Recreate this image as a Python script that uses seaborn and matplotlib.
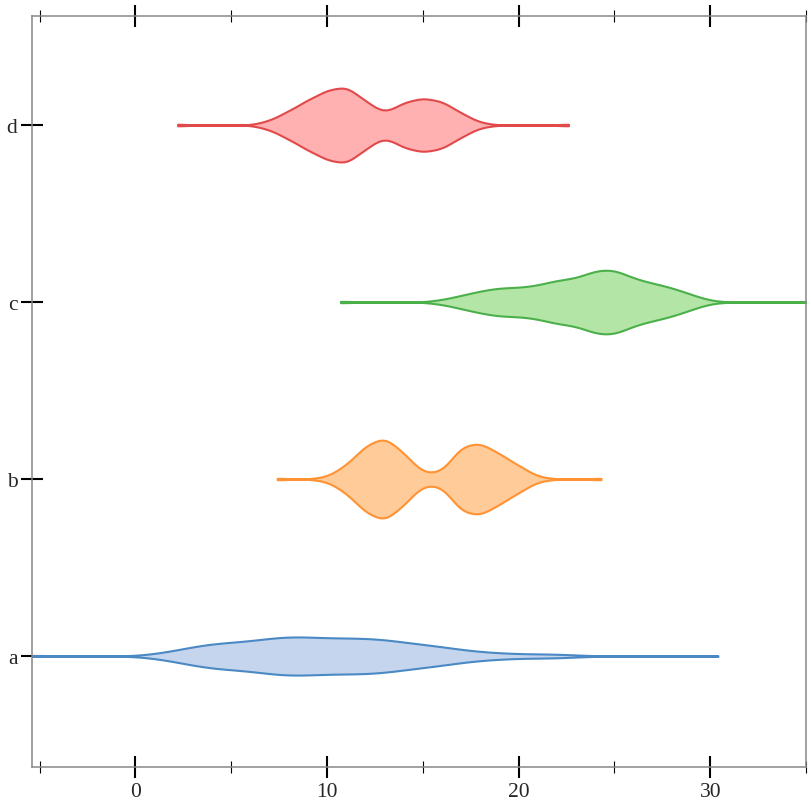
import numpy as np
import pandas as pd
import matplotlib
matplotlib.use('Agg')
import matplotlib.pyplot as plt
import seaborn as sns

# values (grid positions and relative weights)
a_values = [-6, 1, 2, 3, 4, 5, 6, 7, 8, 9, 10, 11, 12, 13, 14, 15, 16, 17, 18, 19, 20, 21, 22, 23, 30.4]
a_counts = [1, 2, 5, 9, 12, 13, 14, 17, 19, 18, 17, 17, 17, 16, 13, 11, 9, 6, 4, 3, 2, 2, 2, 1, 1]

b_values = [7.4, 10, 11, 12, 13, 14, 15, 16, 17, 18, 19, 20, 21, 24.3]
b_counts = [1, 2, 13, 32, 41, 25, 5, 6, 32, 35, 24, 13, 2, 1]

c_values = [10.7, 16, 17, 18, 19, 20, 21, 22, 23, 24, 25, 26, 27, 28, 29, 30, 36]
c_counts = [1, 2, 6, 10, 13, 13, 15, 20, 21, 29, 30, 21, 17, 13, 7, 1, 1]

d_values = [2.2, 7, 8, 9, 10, 11, 12, 13, 14, 15, 16, 17, 18, 22.6]
d_counts = [1, 4, 13, 23, 32, 36, 22, 10, 21, 25, 22, 11, 2, 1]

groups = ['a', 'b', 'c', 'd']
fill_colors = {'a': '#c5d5ee', 'b': '#ffcb99', 'c': '#b3e6a6', 'd': '#ffb1b1'}
line_colors = {'a': '#4a89c4', 'b': '#ff9233', 'c': '#4bb04a', 'd': '#e1494b'}

frames = []
for g, vals, cnts in [('a', a_values, a_counts), ('b', b_values, b_counts),
                      ('c', c_values, c_counts), ('d', d_values, d_counts)]:
    frames.append(pd.DataFrame({'value': np.repeat(vals, cnts), 'group': g}))
df = pd.concat(frames, ignore_index=True)

sns.set_style('ticks')
plt.rcParams['font.family'] = ['Liberation Serif', 'DejaVu Serif']

fig = plt.figure(figsize=(8.12, 8.12), dpi=100)
ax = fig.add_axes([32 / 812, 44 / 812, 774 / 812, 751 / 812])

order = ['d', 'c', 'b', 'a']
sns.violinplot(data=df, x='value', y='group', hue='group', order=order, hue_order=order,
               palette=fill_colors, saturation=1, cut=0, inner=None, bw_method=0.2,
               density_norm='area', common_norm=True, width=0.44, linewidth=1.5,
               legend=False, ax=ax)

# outline colour per violin, matched via its fill
fills_rgb = {g: np.array(matplotlib.colors.to_rgb(c)) for g, c in fill_colors.items()}
for coll in ax.collections:
    fc = coll.get_facecolor()
    if len(fc) == 0:
        continue
    fc = np.array(fc[0][:3])
    g = min(fills_rgb, key=lambda k: np.abs(fills_rgb[k] - fc).sum())
    coll.set_edgecolor(line_colors[g])
    coll.set_linewidth(1.5)

ax.set_xlim(-5.4, 34.7)
ax.set_ylim(3.627, -0.616)
ax.set_xlabel('')
ax.set_ylabel('')
ax.set_xticks([0, 10, 20, 30])
ax.set_xticks([-5, 5, 15, 25, 35], minor=True)

for s in ax.spines.values():
    s.set_color('#888888')
    s.set_linewidth(1.1)

ax.tick_params(axis='x', which='major', direction='inout', length=16, width=1.5,
               top=True, labeltop=False, bottom=True, labelsize=15.5, pad=2.5, color='black')
ax.tick_params(axis='x', which='minor', direction='inout', length=8, width=0.8,
               top=True, bottom=True, color='black')
ax.tick_params(axis='y', which='major', direction='inout', length=16, width=1.5,
               left=True, right=False, labelsize=15.5, pad=2.5, color='black')

fig.savefig('out.png', dpi=100)
